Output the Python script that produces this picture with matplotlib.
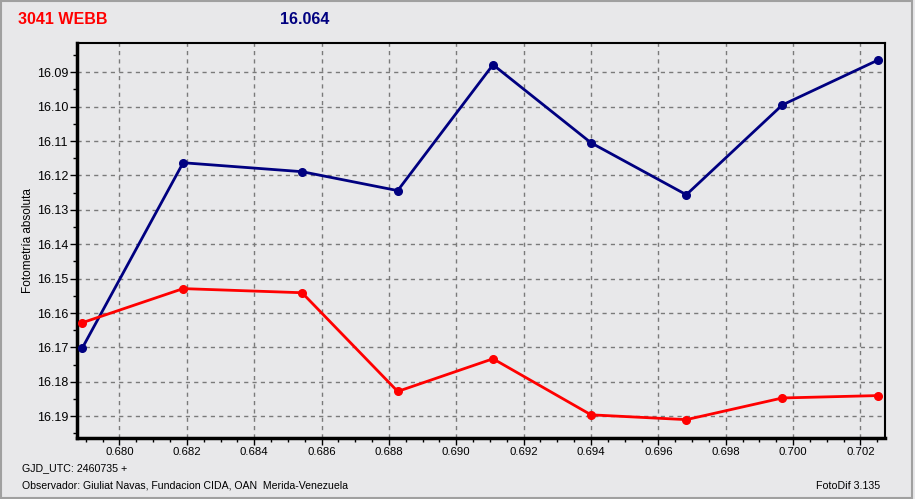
import numpy as np
import matplotlib.pyplot as plt
from matplotlib.ticker import MultipleLocator, FormatStrFormatter
from matplotlib.patches import Rectangle

# GJD - 2460735
jd = [0.67890, 0.68189, 0.68542, 0.68826, 0.69109, 0.69400, 0.69683, 0.69968, 0.70253]
mag_var = [16.1701, 16.1163, 16.1189, 16.1244, 16.0878, 16.1105, 16.1256, 16.0995, 16.0864]
mag_comp = [16.1628, 16.1529, 16.1541, 16.1828, 16.1733, 16.1896, 16.1910, 16.1847, 16.1840]

bg = '#e8e8ea'
plt.rcParams['font.family'] = ['Liberation Sans', 'DejaVu Sans']

fig = plt.figure(figsize=(9.15, 4.99), dpi=100, facecolor=bg)
ax = fig.add_axes([0.0842, 0.1232, 0.8827, 0.7912], facecolor=bg)

ax.plot(jd, mag_var, color='#000080', lw=2, marker='o', ms=5.5, zorder=3)
ax.plot(jd, mag_comp, color='#ff0000', lw=2, marker='o', ms=5.5, zorder=3)

ax.set_xlim(0.67874, 0.70272)
ax.set_ylim(16.1962, 16.0814)

ax.xaxis.set_major_locator(MultipleLocator(0.002))
ax.xaxis.set_minor_locator(MultipleLocator(0.0005))
ax.yaxis.set_major_locator(MultipleLocator(0.01))
ax.yaxis.set_minor_locator(MultipleLocator(0.005))
ax.xaxis.set_major_formatter(FormatStrFormatter('%.3f'))
ax.yaxis.set_major_formatter(FormatStrFormatter('%.2f'))

ax.tick_params(axis='both', which='major', length=5, width=1, labelsize=8.5, colors='black')
ax.tick_params(axis='both', which='minor', length=3, width=1)
ax.tick_params(axis='x', pad=2, labelsize=8.2)
ax.tick_params(axis='y', pad=1.5, labelsize=9)
ax.grid(True, which='major', color='#7a7a7a', linestyle=(0, (3, 3)), lw=1)

for s in ax.spines.values():
    s.set_linewidth(1.5)
    s.set_color('black')
ax.spines['left'].set_linewidth(2.5)
ax.spines['bottom'].set_linewidth(2.5)

ax.set_ylabel('Fotometría absoluta', fontsize=8.5, labelpad=2)

fig.text(18 / 915, 1 - 19 / 499, '3041 WEBB', color='#ff0000', fontsize=11.5,
         fontweight='bold', va='center', ha='left')
fig.text(280 / 915, 1 - 19 / 499, '16.064', color='#000080', fontsize=11.5,
         fontweight='bold', va='center', ha='left')

fig.text(22 / 915, 1 - 468 / 499, 'GJD_UTC: 2460735 +', fontsize=7.7, va='center')
fig.text(22 / 915, 1 - 486 / 499,
         'Observador: Giuliat Navas, Fundacion CIDA, OAN  Merida-Venezuela',
         fontsize=7.6, va='center')
fig.text(880 / 915, 1 - 486 / 499, 'FotoDif 3.135', fontsize=7.7, va='center', ha='right')

# window frame
fig.patches.append(Rectangle((0.001, 0.002), 0.996, 0.996, transform=fig.transFigure,
                             fill=False, edgecolor='#a0a0a0', lw=1.5))

fig.savefig('out.png', dpi=100, facecolor=bg)
